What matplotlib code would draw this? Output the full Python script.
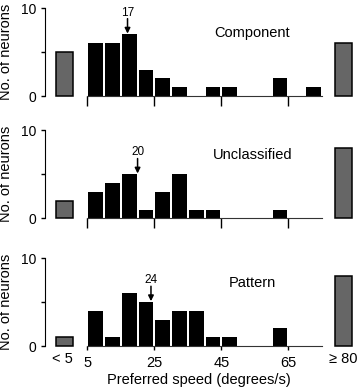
"""
Preferred speed histograms for component, unclassified and pattern cells.
"""
import numpy as np
import matplotlib
matplotlib.use('Agg')
import matplotlib.pyplot as plt
from matplotlib.transforms import blended_transform_factory

plt.rcParams['font.family'] = ['Liberation Sans', 'DejaVu Sans']

# bins of 5 deg/s from 5 to 75
bin_left = np.arange(5, 75, 5)

component = [6, 6, 7, 3, 2, 1, 0, 1, 1, 0, 0, 2, 0, 1]
unclassified = [3, 4, 5, 1, 3, 5, 1, 1, 0, 0, 0, 1, 0, 0]
pattern = [4, 1, 6, 5, 3, 4, 4, 1, 1, 0, 0, 2, 0, 0]

below_5 = [5, 2, 1]
above_80 = [6, 8, 8]

medians = [17, 20, 24]
names = ['Component', 'Unclassified', 'Pattern']
series = [component, unclassified, pattern]

xticks = [5, 25, 45, 65]
low_x, high_x = -1.85, 81.5   # where the out-of-range bars sit

fig = plt.figure(figsize=(3.6, 3.9), dpi=100)
bottoms = [0.7538, 0.4402, 0.1128]

for i, (name, counts) in enumerate(zip(names, series)):
    ax = fig.add_axes([45 / 360, bottoms[i], 307 / 360, 0.2254])
    centers = bin_left + 2.5
    ax.bar(centers, counts, width=4.4, color='black', edgecolor='none')
    ax.bar([low_x, high_x], [below_5[i], above_80[i]], width=5.0,
           color='#666666', edgecolor='black', linewidth=1.1, clip_on=False)

    ax.set_xlim(-7.63, 84.0)
    ax.set_ylim(0, 10)
    for s in ['top', 'right']:
        ax.spines[s].set_visible(False)
    ax.spines['left'].set_bounds(0, 10)
    ax.spines['bottom'].set_bounds(5, 75)
    ax.spines['bottom'].set_color('#333333')

    ax.set_yticks([0, 10])
    ax.set_yticks([5], minor=True)
    ax.tick_params(axis='y', which='both', direction='out', length=3, width=1,
                   labelsize=10, pad=3)
    ax.set_xticks(xticks)
    ax.set_ylabel('No. of neurons', fontsize=10.5, labelpad=2)
    ax.yaxis.set_label_coords(-0.105, 0.5)

    # median arrow points at the bar holding the median
    k = int(np.ceil((medians[i] - 5) / 5)) - 1
    top = counts[k]
    ax.annotate('', xy=(medians[i], top + 0.1), xytext=(medians[i], top + 1.8),
                arrowprops=dict(arrowstyle='-|>', color='black', lw=1.1,
                                mutation_scale=8, shrinkA=0, shrinkB=0),
                annotation_clip=False)
    ax.text(medians[i], top + 2.5, str(medians[i]), ha='center', va='center',
            fontsize=8.5)
    ax.text(54.3, 7.2, name, ha='center', va='center', fontsize=10.5)

    if i < 2:
        ax.tick_params(axis='x', direction='out', length=7.2, width=1,
                       labelbottom=False)
    else:
        ax.tick_params(axis='x', direction='out', length=3, width=1,
                       labelsize=10.5, pad=4)
        ax.set_xticklabels([str(t) for t in xticks])
        trans = blended_transform_factory(ax.transData, ax.transAxes)
        ax.text(low_x - 0.5, -0.065, '< 5', transform=trans, ha='center',
                va='top', fontsize=10.5)
        ax.text(high_x, -0.065, '\u2265 80', transform=trans, ha='center',
                va='top', fontsize=10.5)
        ax.set_xlabel('Preferred speed (degrees/s)', fontsize=10.5, labelpad=2)

plt.savefig('out.png', dpi=100)
